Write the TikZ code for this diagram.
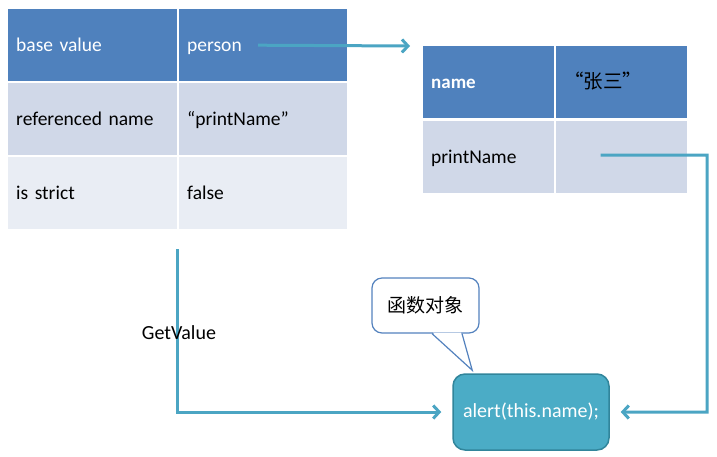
\documentclass[tikz,border=0pt]{standalone}
\usepackage{fontspec}
\setmainfont{Carlito}
\newfontfamily\cjk{Noto Sans CJK SC}
\usetikzlibrary{arrows.meta,positioning}

\definecolor{hdrblue}{RGB}{79,129,189}
\definecolor{rowmid}{RGB}{208,216,232}
\definecolor{rowlow}{RGB}{233,237,244}
\definecolor{linkteal}{RGB}{75,165,195}
\definecolor{alertfill}{RGB}{75,172,198}
\definecolor{alertedge}{RGB}{49,133,155}
\definecolor{bubbleedge}{RGB}{84,130,190}

\tikzset{
	cell/.style={anchor=north west,inner xsep=8pt,inner ysep=0pt,
		minimum height=72pt,text width=#1,align=left,
		text height=1.3em,text depth=0em,
		font=\fontsize{19.5}{22}\selectfont},
	hdr/.style={fill=hdrblue,text=white},
	mid/.style={fill=rowmid},
	low/.style={fill=rowlow},
	link/.style={draw=linkteal,line width=3pt,
		-{Straight Barb[length=6pt,width=13pt,line width=3pt]}},
}

\begin{document}
\begin{tikzpicture}[x=1pt,y=-1pt]
				\useasboundingbox (0,0) rectangle (717,456);

				% reference record
				\node[cell=153pt,hdr] (base) at (8,9) {base value};
				\node[cell=152pt,hdr] (person) at (179,9) {person};
				\node[cell=153pt,mid] (refname) at (8,83) {referenced name};
				\node[cell=152pt,mid] (printstr) at (179,83) {“printName”};
				\node[cell=153pt,low] (strict) at (8,157) {is strict};
				\node[cell=152pt,low] (false) at (179,157) {false};

				% the person object
				\node[cell=115pt,hdr,font=\fontsize{19}{22}\selectfont\bfseries] (name) at (423,46) {name};
				\node[cell=115pt,hdr,text=black] (zhang) at (556,46) {\cjk “张三”};
				\node[cell=115pt,mid] (printname) at (423,121) {printName};
				\node[cell=115pt,mid] (fnslot) at (556,121) {};

				% function object
				\node[draw=alertedge,line width=1.5pt,fill=alertfill,rounded corners=12pt,
					minimum width=156pt,minimum height=76pt,text=white,
					font=\fontsize{20}{23}\selectfont] (alert) at (531,412) {alert(this.name);};

				\node[draw=bubbleedge,line width=1.2pt,fill=white,rounded corners=10pt,
					minimum width=107pt,minimum height=55pt,
					font=\fontsize{19}{22}\selectfont\cjk] (bubble) at (425.5,305.5) {函数对象};
				\fill[white] ([xshift=7.5pt,yshift=1pt]bubble.south)
					-- ([xshift=20pt,yshift=3pt]alert.north west)
					-- ([xshift=35.5pt,yshift=1pt]bubble.south) -- cycle;
				\draw[bubbleedge,line width=1.2pt] ([xshift=6.5pt]bubble.south)
					-- ([xshift=20pt,yshift=3pt]alert.north west)
					-- ([xshift=36.5pt]bubble.south);

				% connectors
				\coordinate (refS) at ([xshift=-5pt]person.center);
				\coordinate (refE) at (410,46);
				\draw[link] (refS) -- (refE);

				\coordinate (fnS) at ([xshift=-21pt,yshift=2pt]fnslot.center);
				\coordinate (fnC) at (707,155);
				\draw[link] (fnS) -- (fnC) |- ([xshift=11pt]alert.east);

				\coordinate (gvS) at ([yshift=-20pt]strict.south east);
				\draw[link] (gvS) |- ([xshift=-11pt]alert.west);
				\node[font=\fontsize{20}{23}\selectfont] (getvalue) at (179,333) {GetValue};

			\end{tikzpicture}
\end{document}
